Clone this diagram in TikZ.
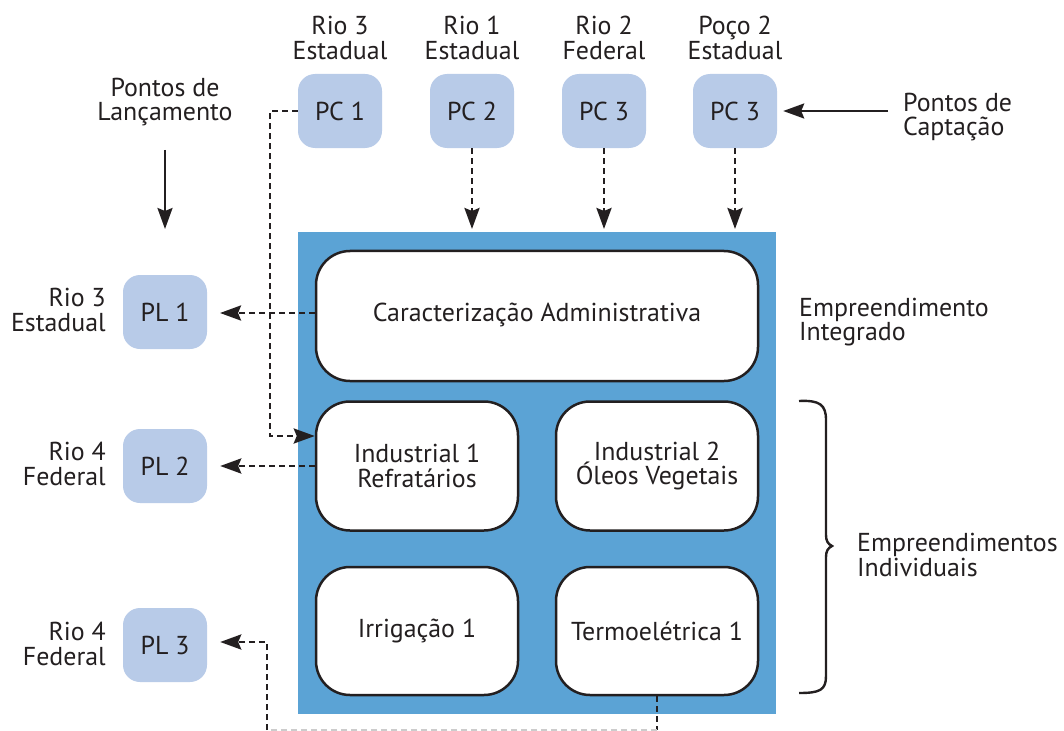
\documentclass[tikz,border=0pt]{standalone}
\usepackage{fontspec}
\setmainfont{PT Sans}
\usetikzlibrary{arrows.meta,calc}
\definecolor{pcfill}{RGB}{184,203,232}
\definecolor{bigblue}{RGB}{91,163,213}
\definecolor{ink}{RGB}{35,31,32}
\tikzset{
  txt/.style={font=\fontsize{26}{24.5}\selectfont, text=ink, inner sep=0pt},
  pbox/.style={txt, fill=pcfill, rounded corners=17bp, minimum width=84bp, minimum height=74bp},
  wbox/.style={txt, fill=white, draw=ink, line width=2.5bp, rounded corners=34bp, align=center},
  dsh/.style={draw=ink, line width=2.8bp, dash pattern=on 6bp off 4bp},
  tip/.style={-{Stealth[length=21bp,width=15bp,inset=3bp]}},
  solid arrow/.style={draw=ink, line width=2.4bp, -{Stealth[length=21bp,width=15bp,inset=3bp]}}
}
\begin{document}
\begin{tikzpicture}[x=1bp,y=-1bp]
\useasboundingbox (0,0) rectangle (1064,731);
% big blue
\node[fill=bigblue, minimum width=478bp, minimum height=482bp, inner sep=0pt] (blue) at (537,473) {};
% white boxes
\node[wbox, minimum width=442bp, minimum height=130bp, text depth=0bp, text height=10bp] (carac) at (537,316) {Caracterização Administrativa};
\node[wbox, minimum width=202bp, minimum height=129bp] (ind1) at (417,466) {Industrial 1\\Refratários};
\node[wbox, minimum width=202bp, minimum height=129bp] (ind2) at (657,466) {Industrial 2\\Óleos Vegetais};
\node[wbox, minimum width=202bp, minimum height=128bp] (irr) at (417,631) {Irrigação 1};
\node[wbox, minimum width=202bp, minimum height=128bp] (termo) at (657,631) {Termoelétrica 1};
% PC boxes
\node[pbox] (pc1) at (340,111) {PC 1};
\node[pbox] (pc2) at (472,111) {PC 2};
\node[pbox] (pc3) at (604,111) {PC 3};
\node[pbox] (pc4) at (735,111) {PC 3};
% PL boxes
\node[pbox] (pl1) at (165,312) {PL 1};
\node[pbox] (pl2) at (165,466) {PL 2};
\node[pbox] (pl3) at (165,645) {PL 3};
% labels above PC
\node[txt, align=center] (l1) at (340,38) {Rio 3\\Estadual};
\node[txt, align=center] (l2) at (472,38) {Rio 1\\Estadual};
\node[txt, align=center] (l3) at (604,38) {Rio 2\\Federal};
\node[txt, align=center] (l4) at (735,38) {Poço 2\\Estadual};
% left labels
\node[txt, align=right, anchor=east] (r1) at (106,310) {Rio 3\\Estadual};
\node[txt, align=right, anchor=east] (r2) at (106,464) {Rio 4\\Federal};
\node[txt, align=right, anchor=east] (r3) at (106,644) {Rio 4\\Federal};
% titles
\node[txt, align=center] (plt) at (165,102) {Pontos de\\Lançamento};
\node[txt, align=left, anchor=west] (pct) at (903,117) {Pontos de\\Captação};
\node[txt, align=left, anchor=west] (ei) at (799,322) {Empreendimento\\Integrado};
\node[txt, align=left, anchor=west] (eis) at (857,555) {Empreendimentos\\Individuais};
% solid arrows
\coordinate (plta) at (165,150);
\coordinate (pltb) at (165,229);
\draw[solid arrow] (plta) -- (pltb);
\coordinate (pcta) at (888,111);
\draw[solid arrow] (pcta) -- ($(pc4.east)+(6,0)$);
% dashed arrows from PCs into blue
\draw[dsh, tip] (pc2.south) -- (pc2.south |- 0,229);
\draw[dsh, tip] (pc3.south) -- (pc3.south |- 0,229);
\draw[dsh, tip] (pc4.south) -- (pc4.south |- 0,229);
% PC1 to Industrial 1
\coordinate (c1) at (270,111);
\coordinate (c2) at (270,436);
\draw[dsh, tip] (pc1.west) -- (c1) -- (c2) -- (ind1.west |- c2);
% to PLs
\coordinate (p1) at (220,313);
\draw[dsh, tip] (carac.west |- p1) -- (p1);
\draw[dsh, tip] (ind1.west) -- ($(pl2.east)+(13,0)$);
% termo to PL3
\coordinate (d1) at (657,730);
\coordinate (d2) at (267,730);
\coordinate (d3) at (267,642);
\draw[dsh] (termo.south) -- (d1);
\draw[draw=black!20, line width=1.5bp, dash pattern=on 6bp off 4bp] (d1) -- (d2);
\draw[dsh, tip] (d2) -- (d3) -- ($(pl3.east)+(13,-3)$);
% brace
\draw[draw=ink, line width=2.4bp] (799,401) .. controls (820,400) and (826,405) .. (826,420) -- (826,535) .. controls (826,541) and (828,544) .. (832,546) .. controls (828,548) and (826,551) .. (826,557) -- (826,676) .. controls (826,690) and (820,693) .. (799,693);
\end{tikzpicture}
\end{document}
